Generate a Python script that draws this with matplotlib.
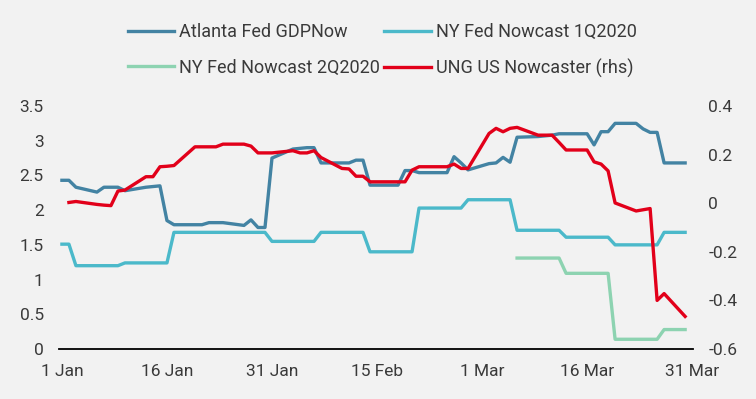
import numpy as np
import pandas as pd
import matplotlib
matplotlib.use("Agg")
import matplotlib.pyplot as plt

plt.rcParams['font.family'] = ['Roboto', 'DejaVu Sans']
plt.rcParams['axes.unicode_minus'] = False

# business days, 1 Jan - 30 Mar 2020
dates = pd.bdate_range("2020-01-01", "2020-03-30")

atlanta = [2.43, 2.43, 2.33, 2.26, 2.33, 2.33, 2.33, 2.28, 2.33, 2.34,
           2.35, 1.85, 1.79, 1.79, 1.79, 1.82, 1.82, 1.82, 1.78, 1.86,
           1.75, 1.75, 2.75, 2.88, 2.89, 2.90, 2.90, 2.68, 2.68, 2.68,
           2.72, 2.72, 2.36, 2.36, 2.36, 2.57, 2.57, 2.54, 2.54, 2.54,
           2.77, 2.68, 2.58, 2.67, 2.68, 2.76, 2.69, 3.05, 3.06, 3.07,
           3.08, 3.10, 3.10, 3.10, 2.94, 3.13, 3.13, 3.25, 3.25, 3.17,
           3.12, 3.12, 2.68, 2.68]

ny_1q = [1.51, 1.51, 1.20, 1.20, 1.20, 1.20, 1.20, 1.24, 1.24, 1.24,
         1.24, 1.24, 1.68, 1.68, 1.68, 1.68, 1.68, 1.68, 1.68, 1.68,
         1.68, 1.68, 1.55, 1.55, 1.55, 1.55, 1.55, 1.68, 1.68, 1.68,
         1.68, 1.68, 1.40, 1.40, 1.40, 1.40, 1.40, 2.03, 2.03, 2.03,
         2.03, 2.03, 2.15, 2.15, 2.15, 2.15, 2.15, 1.71, 1.71, 1.71,
         1.71, 1.71, 1.61, 1.61, 1.61, 1.61, 1.61, 1.50, 1.50, 1.50,
         1.50, 1.50, 1.68, 1.68]

ny_2q = [np.nan] * 47 + [1.31, 1.31, 1.31, 1.31, 1.31, 1.09, 1.09, 1.09,
                         1.09, 1.09, 0.14, 0.14, 0.14, 0.14, 0.14, 0.28, 0.28]

ung = [np.nan, 0.003, 0.007, -0.005, -0.008, -0.01, 0.05, 0.054, 0.109, 0.109,
       0.15, 0.152, 0.155, 0.232, 0.232, 0.232, 0.232, 0.243, 0.243, 0.235,
       0.207, 0.207, 0.207, 0.216, 0.207, 0.207, 0.216, 0.188, 0.143, 0.141,
       0.111, 0.111, 0.088, 0.088, 0.088, 0.088, 0.136, 0.15, 0.15, 0.15,
       0.161, 0.143, 0.143, 0.287, 0.308, 0.294, 0.308, 0.312, 0.28, 0.28,
       0.28, 0.25, 0.219, 0.219, 0.170, 0.161, 0.133, 0.001, -0.032, -0.027,
       -0.022, -0.40, -0.372, -0.466]

left_ticks = [0, 0.5, 1, 1.5, 2, 2.5, 3, 3.5]
left_labels = ["0", "0.5", "1", "1.5", "2", "2.5", "3", "3.5"]
right_ticks = [-0.6, -0.4, -0.2, 0, 0.2, 0.4]
right_labels = ["-0.6", "-0.4", "-0.2", "0", "0.2", "0.4"]
x_ticks = pd.to_datetime(["2020-01-01", "2020-01-16", "2020-01-31", "2020-02-15",
                          "2020-03-01", "2020-03-16", "2020-03-31"])
x_labels = ["1 Jan", "16 Jan", "31 Jan", "15 Feb", "1 Mar", "16 Mar", "31 Mar"]

bg = "#F2F2F2"
txt = "#3A3A3A"

fig = plt.figure(figsize=(7.56, 3.99), dpi=100, facecolor=bg)
ax = fig.add_axes([59/756, 1 - 349/399, 634/756, 243/399], facecolor=bg)
ax2 = ax.twinx()

l1, = ax.plot(dates, atlanta, color="#4383A3", lw=2.4, label="Atlanta Fed GDPNow")
l2, = ax.plot(dates, ny_1q, color="#4BB9CA", lw=2.4, label="NY Fed Nowcast 1Q2020")
l3, = ax.plot(dates, ny_2q, color="#8DD3B1", lw=2.4, label="NY Fed Nowcast 2Q2020")
l4, = ax2.plot(dates, ung, color="#E2001A", lw=2.4, label="UNG US Nowcaster (rhs)")

x0 = pd.Timestamp("2020-01-01")
ax.set_xlim(x0 - pd.Timedelta(hours=10), x0 + pd.Timedelta(days=90, hours=3))
ax.set_ylim(0, 3.5)
ax2.set_ylim(-0.6, 0.4)

ax.set_yticks(left_ticks)
ax.set_yticklabels(left_labels)
ax2.set_yticks(right_ticks)
ax2.set_yticklabels(right_labels)
ax.set_xticks(x_ticks)
ax.set_xticklabels(x_labels)

for a in (ax, ax2):
    for s in a.spines.values():
        s.set_visible(False)
    a.tick_params(length=0, labelsize=12.5, colors=txt)
ax.spines["bottom"].set_visible(True)
ax.spines["bottom"].set_color("black")
ax.spines["bottom"].set_linewidth(1.3)
ax.tick_params(axis="y", pad=11)
ax2.tick_params(axis="y", pad=11)
ax.tick_params(axis="x", pad=11)

# legend fills column-wise: order so rows read Atlanta / NY 1Q, NY 2Q / UNG
fig.legend(handles=[l1, l3, l2, l4], ncol=2, loc="upper left",
           bbox_to_anchor=(128/756, 1 - 23/399), frameon=False, fontsize=13,
           handlelength=2.55, handletextpad=0.28, columnspacing=0.25,
           labelspacing=0.97, borderpad=0, borderaxespad=0, labelcolor=txt)

fig.savefig("out.png", dpi=100, facecolor=bg)
